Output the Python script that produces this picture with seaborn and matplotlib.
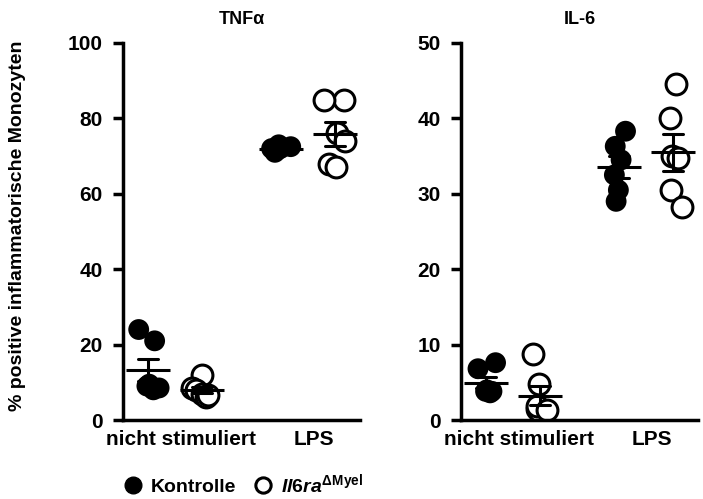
import numpy as np
import pandas as pd
import seaborn as sns
import matplotlib
matplotlib.use("Agg")
import matplotlib.pyplot as plt
from matplotlib.lines import Line2D
from matplotlib.transforms import ScaledTranslation

sns.set_style("ticks")
plt.rcParams['font.family'] = ['Liberation Sans', 'DejaVu Sans']
plt.rcParams['font.weight'] = 'bold'
plt.rcParams['mathtext.fontset'] = 'custom'
plt.rcParams['mathtext.rm'] = 'Liberation Sans:bold'
plt.rcParams['mathtext.bf'] = 'Liberation Sans:bold'
plt.rcParams['mathtext.it'] = 'Liberation Sans:bold:italic'
for k in ['text.color', 'axes.labelcolor', 'xtick.color', 'ytick.color', 'axes.edgecolor']:
    plt.rcParams[k] = 'black'

categories = ["nicht stimuliert", "LPS"]
groups = ["Kontrolle", "Il6ra"]

tnf_ns_ctrl = [24, 21, 9, 8, 8.5, 9.5]
tnf_ns_ko = [12, 8.5, 8, 7, 6, 6.5]
tnf_lps_ctrl = [73, 72, 71.5, 72.5, 71, 72]
tnf_lps_ko = [85, 85, 76, 74, 68, 67]

il6_ns_ctrl = [7.6, 6.8, 4.0, 3.8, 3.6, 3.8]
il6_ns_ko = [8.8, 4.8, 1.5, 1.2, 1.8, 1.3]
il6_lps_ctrl = [38.3, 36.3, 34.5, 32.5, 30.5, 29.0]
il6_lps_ko = [44.5, 40.0, 35.0, 34.8, 30.5, 28.2]


def frame(ns_c, ns_k, lps_c, lps_k):
    rows = []
    for cat, grp, vals in [(categories[0], groups[0], ns_c), (categories[0], groups[1], ns_k),
                           (categories[1], groups[0], lps_c), (categories[1], groups[1], lps_k)]:
        for v in vals:
            rows.append({"cat": cat, "grp": grp, "val": v})
    return pd.DataFrame(rows)


df_tnf = frame(tnf_ns_ctrl, tnf_ns_ko, tnf_lps_ctrl, tnf_lps_ko)
df_il6 = frame(il6_ns_ctrl, il6_ns_ko, il6_lps_ctrl, il6_lps_ko)

fig = plt.figure(figsize=(7.03, 4.99), dpi=100)
W, H = 703, 499
ax1 = fig.add_axes([123 / W, 79 / H, 237 / W, 377 / H])
ax2 = fig.add_axes([461 / W, 79 / H, 237 / W, 377 / H])

np.random.seed(7)
for ax, df, ymax, step, title in [(ax1, df_tnf, 100, 20, "TNFα"), (ax2, df_il6, 50, 10, "IL-6")]:
    sns.stripplot(data=df, x="cat", y="val", hue="grp", order=categories, hue_order=groups,
                  dodge=True, jitter=0.17, size=15, palette=["black", "black"],
                  linewidth=0, ax=ax, legend=False, zorder=2)
    sns.pointplot(data=df, x="cat", y="val", hue="grp", order=categories, hue_order=groups,
                  dodge=0.4, errorbar="se", capsize=0.15, linestyle="none", marker="_",
                  markersize=31, markeredgewidth=2.2, palette=["black", "black"],
                  err_kws={"linewidth": 2.2}, ax=ax, legend=False, zorder=5)
    ax.set_xlim(-0.39, 1.39)
    ax.set_ylim(0, ymax)
    ax.set_yticks(np.arange(0, ymax + 1, step))
    ax.set_xlabel("")
    ax.set_ylabel("")
    ax.set_title(title, fontsize=13, fontweight="bold", pad=14)
    sns.despine(ax=ax)
    for s in ["left", "bottom"]:
        ax.spines[s].set_linewidth(2.5)
    ax.tick_params(axis="y", width=2.5, length=7.5, labelsize=15, pad=7)
    ax.tick_params(axis="x", length=0, labelsize=15, pad=7)
    for lab in ax.get_xticklabels() + ax.get_yticklabels():
        lab.set_fontweight("bold")
    shift = ScaledTranslation(6 / 100, 0, fig.dpi_scale_trans)
    for lab in ax.get_xticklabels():
        lab.set_transform(lab.get_transform() + shift)

# make the Il6ra points hollow (identified by their dodge offset)
for ax in (ax1, ax2):
    for c in ax.collections:
        offs = c.get_offsets()
        if len(offs) == 0:
            continue
        xm = np.mean(offs[:, 0])
        frac = xm - np.round(xm)
        if frac > 0.05:
            c.set_facecolor("white")
            c.set_edgecolor("black")
            c.set_linewidth(2.2)

fig.text(18 / W, 1 - 226 / H, "% positive inflammatorische Monozyten", rotation=90,
         ha="center", va="center", fontsize=14, fontweight="bold")

handles = [
    Line2D([], [], marker="o", linestyle="none", markersize=12, markerfacecolor="black",
           markeredgecolor="black"),
    Line2D([], [], marker="o", linestyle="none", markersize=11, markerfacecolor="white",
           markeredgecolor="black", markeredgewidth=2.2),
]
labels = ["Kontrolle", r"$\mathit{Il6ra}^{\mathrm{\Delta Myel}}$"]
fig.legend(handles, labels, loc="center", bbox_to_anchor=(243 / W, 1 - 484 / H), ncol=2,
           frameon=False, handletextpad=0.4, columnspacing=0.9, handlelength=1.0,
           prop={"weight": "bold", "size": 14})

fig.savefig("out.png", dpi=100)
